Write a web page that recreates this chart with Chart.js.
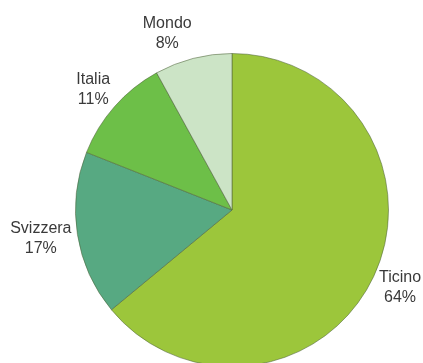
<!DOCTYPE html>
<html>
<head>
<meta charset="utf-8">
<script src="https://cdn.jsdelivr.net/npm/chart.js@4.4.1/dist/chart.umd.min.js"></script>
<style>
  html, body { margin: 0; padding: 0; background: #fff; overflow: hidden; }
  canvas { display: block; }
</style>
</head>
<body>
<canvas id="myChart" width="423" height="380"></canvas>
<script>
const labels = ["Ticino", "Svizzera", "Italia", "Mondo"];
const shares = [64, 17, 11, 8];
const colors = ["#9cc63b", "#57a982", "#6dbf48", "#cce4c6"];

// labels sit just outside the rim, pushed out along each slice's middle
const outsideLabels = {
  id: "outsideLabels",
  afterDatasetsDraw(chart) {
    const ctx = chart.ctx;
    const arcs = chart.getDatasetMeta(0).data;
    ctx.save();
    ctx.font = "16px 'Liberation Sans', Arial, sans-serif";
    ctx.fillStyle = "#3a3a3a";
    ctx.textAlign = "center";
    ctx.textBaseline = "middle";
    const lineH = 20;
    arcs.forEach((arc, i) => {
      const mid = (arc.startAngle + arc.endAngle) / 2;
      const dx = Math.cos(mid);
      const dy = Math.sin(mid);
      const r = arc.outerRadius + 6;
      const lines = [labels[i], shares[i] + "%"];
      const w = Math.max(...lines.map((t) => ctx.measureText(t).width));
      const h = lines.length * lineH;
      const kx = Math.max(-1, Math.min(1, dx * 4));
      const cx = arc.x + dx * r + kx * w / 2;
      const cy = arc.y + dy * r + dy * h / 2;
      lines.forEach((t, j) => {
        ctx.fillText(t, cx, cy - h / 2 + lineH / 2 + j * lineH);
      });
    });
    ctx.restore();
  },
};

new Chart("myChart", {
  type: "pie",
  data: {
    labels: labels,
    datasets: [
      {
        data: shares,
        backgroundColor: colors,
        borderColor: "rgba(80,100,60,0.55)",
        borderWidth: 1,
      },
    ],
  },
  options: {
    responsive: false,
    animation: false,
    layout: { padding: { top: 53, left: 75, right: 34, bottom: 13 } },
    plugins: {
      legend: { display: false },
      tooltip: { enabled: false },
    },
  },
  plugins: [outsideLabels],
});
</script>
</body>
</html>
